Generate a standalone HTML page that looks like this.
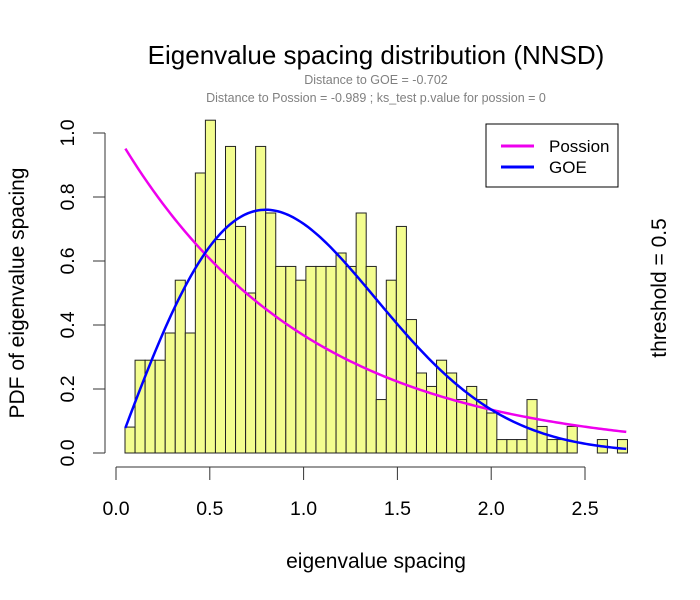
<!DOCTYPE html>
<html><head><meta charset="utf-8"><style>
body{margin:0;background:#fff;}
svg{display:block;font-family:"Liberation Sans",Arial,sans-serif;}
</style></head><body>
<svg id="chart" width="700" height="600" viewBox="0 0 700 600">
<text x="376" y="64" font-size="26" text-anchor="middle">Eigenvalue spacing distribution (NNSD)</text>
<text x="376" y="84" font-size="12.5" fill="#808080" text-anchor="middle">Distance to GOE = -0.702</text>
<text x="376" y="102" font-size="12.5" fill="#808080" text-anchor="middle">Distance to Possion = -0.989 ; ks_test p.value for possion = 0</text>
<g id="bars"></g>
<g id="curves"></g>
<g id="xaxis"></g>
<g id="yaxis"></g>
<text x="376" y="568" font-size="21" text-anchor="middle">eigenvalue spacing</text>
<text transform="translate(24,293) rotate(-90)" font-size="21" text-anchor="middle">PDF of eigenvalue spacing</text>
<text transform="translate(666,288) rotate(-90)" font-size="21" text-anchor="middle">threshold = 0.5</text>
<g>
<rect x="486" y="124" width="132" height="63" fill="#fff" stroke="#000" stroke-width="1"/>
<line x1="501" y1="146" x2="534" y2="146" stroke="#ee00ee" stroke-width="3"/>
<text x="549" y="152" font-size="17">Possion</text>
<line x1="501" y1="167" x2="534" y2="167" stroke="#0000ff" stroke-width="3"/>
<text x="549" y="173" font-size="17">GOE</text>
</g>
</svg>
<script>
const binStart = 0.048;
const binWidth = 0.05357;
const densities = [0.081,0.29,0.29,0.29,0.375,0.54,0.375,0.875,1.04,0.667,0.958,0.708,0.5,0.958,0.75,0.583,0.583,0.54,0.583,0.583,0.583,0.625,0.583,0.75,0.583,0.167,0.54,0.708,0.417,0.25,0.208,0.29,0.25,0.167,0.208,0.167,0.125,0.042,0.042,0.042,0.167,0.083,0.042,0.042,0.083,0,0,0.042,0,0.042];
const xTicks = [0,0.5,1,1.5,2,2.5];
const xTickLabels = ["0.0","0.5","1.0","1.5","2.0","2.5"];
const yTicks = [0,0.2,0.4,0.6,0.8,1.0];
const yTickLabels = ["0.0","0.2","0.4","0.6","0.8","1.0"];
const curveRange = [0.05, 2.72];

const NS='http://www.w3.org/2000/svg';
const sx = v => 116 + v*187.6;
const sy = v => 453 - v*320;
function mk(tag, attrs, parent){const e=document.createElementNS(NS,tag);for(const k in attrs)e.setAttribute(k,attrs[k]);parent.appendChild(e);return e;}

const bars=document.getElementById('bars');
densities.forEach((d,i)=>{
  if(d<=0) return;
  const x0=sx(binStart+i*binWidth), x1=sx(binStart+(i+1)*binWidth);
  const r=mk('rect',{x:x0,y:sy(d),width:x1-x0,height:sy(0)-sy(d),fill:'#f3fd8f',stroke:'#222','stroke-width':1},bars);
  
  
});

const curves=document.getElementById('curves');
function curve(f,color,name){
  let p=[];
  for(let k=0;k<=200;k++){const s=curveRange[0]+(curveRange[1]-curveRange[0])*k/200;p.push(sx(s).toFixed(2)+','+sy(f(s)).toFixed(2));}
  const e=mk('polyline',{points:p.join(' '),fill:'none',stroke:color,'stroke-width':2.5},curves);
  
  
}
curve(s=>Math.exp(-s),'#ee00ee','poisson-curve');
curve(s=>Math.PI/2*s*Math.exp(-Math.PI*s*s/4),'#0000ff','goe-curve');

const xa=document.getElementById('xaxis');
mk('line',{x1:sx(xTicks[0]),y1:467,x2:sx(xTicks[xTicks.length-1]),y2:467,stroke:'#333'},xa);
xTicks.forEach((t,i)=>{
  mk('line',{x1:sx(t),y1:467,x2:sx(t),y2:480,stroke:'#333'},xa);
  const tx=mk('text',{x:sx(t),y:515,'font-size':19.5,'text-anchor':'middle'},xa);
  tx.textContent=xTickLabels[i];
  
  
});
const ya=document.getElementById('yaxis');
mk('line',{x1:105,y1:sy(yTicks[0]),x2:105,y2:sy(yTicks[yTicks.length-1]),stroke:'#333'},ya);
yTicks.forEach((t,i)=>{
  mk('line',{x1:93,y1:sy(t),x2:105,y2:sy(t),stroke:'#333'},ya);
  const tx=mk('text',{transform:`translate(74,${sy(t)}) rotate(-90)`,'font-size':19.5,'text-anchor':'middle'},ya);
  tx.textContent=yTickLabels[i];
  
  
});
</script>
</body></html>
